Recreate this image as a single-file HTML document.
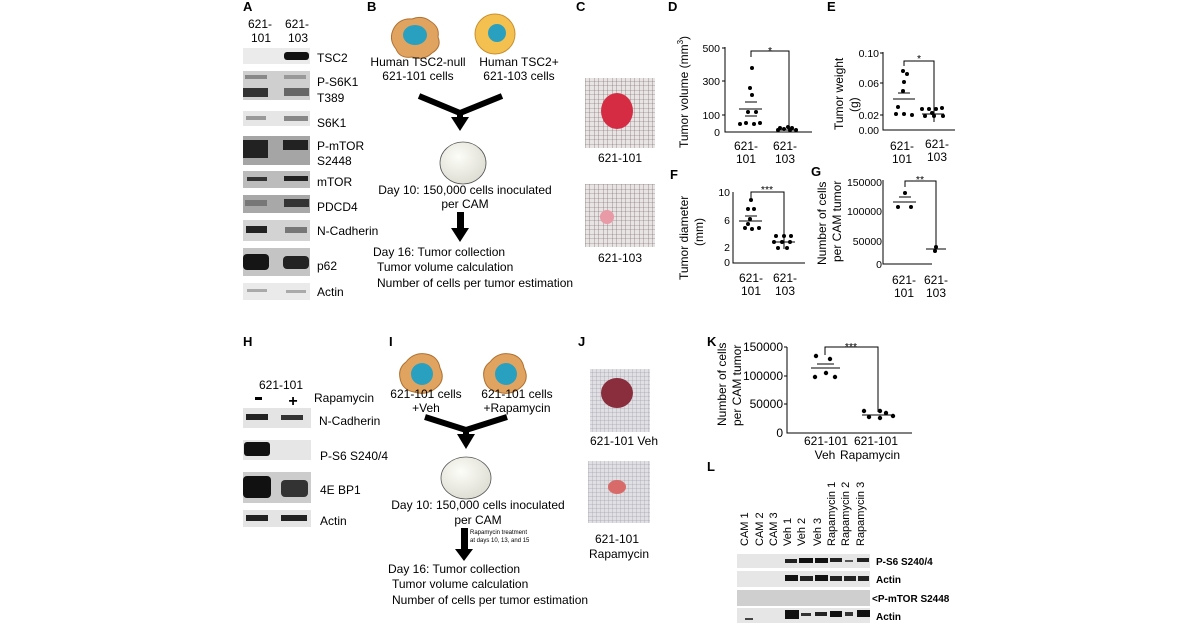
<!DOCTYPE html>
<html><head><meta charset="utf-8"><style>
html,body{margin:0;padding:0;background:#fff;}
svg{display:block;font-family:"Liberation Sans",sans-serif;}
.b{font-weight:bold;font-size:13px;}
.t{font-size:12px;}
.s{font-size:10.5px;}
</style></head><body>
<svg width="1200" height="628" viewBox="0 0 1200 628" xmlns="http://www.w3.org/2000/svg">
<defs>
<pattern id="g" width="4.5" height="4.5" patternUnits="userSpaceOnUse"><rect width="4.5" height="4.5" fill="#e8e4e4"/><path d="M0 0H4.5M0 0V4.5" stroke="#6a5a5a" stroke-width="0.6"/></pattern>
<pattern id="g2" width="4" height="4" patternUnits="userSpaceOnUse"><rect width="4" height="4" fill="#e0e0e4"/><path d="M0 0H4M0 0V4" stroke="#8a8a92" stroke-width="0.5"/></pattern>
<radialGradient id="egg" cx="0.4" cy="0.35" r="0.7"><stop offset="0" stop-color="#fdfdf8"/><stop offset="1" stop-color="#dcdcd2"/></radialGradient>
</defs>
<g fill="#000">
<!-- A -->
<text x="243" y="11" class="b">A</text>
<text x="248" y="28" class="t">621-</text><text x="251" y="42" class="t">101</text>
<text x="285" y="28" class="t">621-</text><text x="288" y="42" class="t">103</text>
<rect x="243" y="48" width="67" height="16" fill="#ebebeb"/><rect x="284" y="52" width="25" height="8" rx="3" fill="#111"/>
<rect x="243" y="71" width="67" height="29" fill="#cfcfcf"/><rect x="243" y="88" width="25" height="9" fill="#333"/><rect x="284" y="88" width="25" height="8" fill="#666"/><rect x="245" y="75" width="22" height="4" fill="#888"/><rect x="284" y="75" width="22" height="4" fill="#999"/>
<rect x="243" y="111" width="67" height="15" fill="#e6e6e6"/><rect x="246" y="116" width="20" height="4" fill="#999"/><rect x="284" y="116" width="24" height="5" fill="#888"/>
<rect x="243" y="136" width="67" height="29" fill="#a5a5a5"/><rect x="243" y="140" width="25" height="18" fill="#222"/><rect x="283" y="140" width="25" height="10" fill="#222"/>
<rect x="243" y="171" width="67" height="17" fill="#bcbcbc"/><rect x="247" y="177" width="20" height="4" fill="#333"/><rect x="284" y="176" width="24" height="5" fill="#222"/>
<rect x="243" y="195" width="67" height="18" fill="#a8a8a8"/><rect x="245" y="200" width="22" height="6" fill="#777"/><rect x="284" y="199" width="25" height="8" fill="#333"/>
<rect x="243" y="220" width="67" height="21" fill="#d3d3d3"/><rect x="246" y="226" width="21" height="7" fill="#222"/><rect x="285" y="227" width="22" height="6" fill="#777"/>
<rect x="243" y="248" width="67" height="28" fill="#c4c4c4"/><rect x="243" y="254" width="26" height="16" rx="4" fill="#151515"/><rect x="283" y="256" width="26" height="13" rx="4" fill="#222"/>
<rect x="243" y="283" width="67" height="17" fill="#eaeaea"/><rect x="247" y="289" width="20" height="3" fill="#aaa"/><rect x="286" y="290" width="20" height="3" fill="#aaa"/>
<text x="317" y="62" class="t">TSC2</text>
<text x="317" y="86" class="t">P-S6K1</text><text x="317" y="102" class="t">T389</text>
<text x="317" y="127" class="t">S6K1</text>
<text x="317" y="150" class="t">P-mTOR</text><text x="317" y="165" class="t">S2448</text>
<text x="317" y="186" class="t">mTOR</text>
<text x="317" y="211" class="t">PDCD4</text>
<text x="317" y="235" class="t">N-Cadherin</text>
<text x="317" y="270" class="t">p62</text>
<text x="317" y="296" class="t">Actin</text>
<!-- B -->
<text x="367" y="11" class="b">B</text>
<path d="M394 28 q6-10 18-9 q10-4 18 2 q10 6 8 16 q4 10-6 16 q-8 8-20 4 q-12 2-16-8 q-8-10-2-21z" fill="#e0a460" stroke="#b07030" stroke-width="1"/>
<ellipse cx="415" cy="35" rx="12" ry="10" fill="#2aa0c0"/>
<circle cx="495" cy="34" r="20" fill="#f4c050" stroke="#c89030" stroke-width="1"/><circle cx="497" cy="33" r="9" fill="#2aa0c0"/>
<text x="418" y="66" class="t" text-anchor="middle">Human TSC2-null</text>
<text x="418" y="80" class="t" text-anchor="middle">621-101 cells</text>
<text x="519" y="66" class="t" text-anchor="middle">Human TSC2+</text>
<text x="519" y="80" class="t" text-anchor="middle">621-103 cells</text>
<path d="M419 96 L460 113 L502 96" fill="none" stroke="#000" stroke-width="6"/>
<path d="M460 113 V118" stroke="#000" stroke-width="6"/><path d="M451 117 L469 117 L460 131z"/>
<ellipse cx="463" cy="163" rx="23" ry="21" fill="url(#egg)" stroke="#555" stroke-width="0.8"/>
<text x="465" y="194" class="t" text-anchor="middle">Day 10: 150,000 cells inoculated</text>
<text x="465" y="208" class="t" text-anchor="middle">per CAM</text>
<rect x="457" y="212" width="7" height="17"/><path d="M451 228 L469 228 L460 242z"/>
<text x="373" y="256" class="t">Day 16: Tumor collection</text>
<text x="377" y="271" class="t">Tumor volume calculation</text>
<text x="377" y="287" class="t">Number of cells per tumor estimation</text>
<!-- C -->
<text x="576" y="11" class="b">C</text>
<rect x="585" y="78" width="70" height="70" fill="url(#g)"/>
<ellipse cx="617" cy="111" rx="16" ry="18" fill="#d52c44"/>
<text x="620" y="162" class="t" text-anchor="middle">621-101</text>
<rect x="585" y="184" width="70" height="63" fill="url(#g)"/>
<circle cx="607" cy="217" r="7" fill="#e89aa6"/>
<text x="620" y="262" class="t" text-anchor="middle">621-103</text>
<!-- D -->
<text x="668" y="11" class="b">D</text>
<text transform="translate(688,148) rotate(-90)" class="t">Tumor volume (mm<tspan dy="-5" font-size="8">3</tspan><tspan dy="5">)</tspan></text>
<path d="M725 47 V132 H812" fill="none" stroke="#000"/>
<path d="M722 48H725M722 81H725M722 115H725" stroke="#000"/>
<text x="720" y="52" class="s" text-anchor="end">500</text><text x="720" y="85" class="s" text-anchor="end">300</text><text x="720" y="119" class="s" text-anchor="end">100</text><text x="720" y="136" class="s" text-anchor="end">0</text>
<path d="M751 57V51H789V126" fill="none" stroke="#000"/><text x="770" y="54" class="s" text-anchor="middle">*</text>
<g><circle cx="752" cy="68" r="2"/><circle cx="750" cy="88" r="2"/><circle cx="752" cy="95" r="2"/><circle cx="740" cy="124" r="2"/><circle cx="746" cy="123" r="2"/><circle cx="754" cy="124" r="2"/><circle cx="760" cy="123" r="2"/><circle cx="748" cy="112" r="2"/><circle cx="756" cy="112" r="2"/>
<circle cx="778" cy="130" r="2"/><circle cx="784" cy="129" r="2"/><circle cx="790" cy="130" r="2"/><circle cx="796" cy="130" r="2"/><circle cx="788" cy="127" r="2"/><circle cx="780" cy="128" r="2"/><circle cx="792" cy="128" r="2"/></g>
<path d="M739 109H762M745 102H757M745 116H757M777 130H798" stroke="#000"/>
<text x="746" y="150" class="t" text-anchor="middle">621-</text><text x="746" y="163" class="t" text-anchor="middle">101</text>
<text x="785" y="150" class="t" text-anchor="middle">621-</text><text x="785" y="163" class="t" text-anchor="middle">103</text>
<!-- E -->
<text x="827" y="11" class="b">E</text>
<text transform="translate(843,130) rotate(-90)" class="t">Tumor weight</text>
<text transform="translate(858,112) rotate(-90)" class="t">(g)</text>
<path d="M883 52 V130 H955" fill="none" stroke="#000"/>
<path d="M880 53H883M880 83H883M880 115H883" stroke="#000"/>
<text x="879" y="57" class="s" text-anchor="end">0.10</text><text x="879" y="87" class="s" text-anchor="end">0.06</text><text x="879" y="119" class="s" text-anchor="end">0.02</text><text x="879" y="134" class="s" text-anchor="end">0.00</text>
<path d="M904 66V61H934V122" fill="none" stroke="#000"/><text x="919" y="62" class="s" text-anchor="middle">*</text>
<g><circle cx="903" cy="71" r="2"/><circle cx="907" cy="74" r="2"/><circle cx="904" cy="82" r="2"/><circle cx="903" cy="91" r="2"/><circle cx="896" cy="114" r="2"/><circle cx="904" cy="114" r="2"/><circle cx="912" cy="115" r="2"/><circle cx="898" cy="107" r="2"/>
<circle cx="922" cy="109" r="2"/><circle cx="929" cy="109" r="2"/><circle cx="936" cy="109" r="2"/><circle cx="942" cy="108" r="2"/><circle cx="925" cy="116" r="2"/><circle cx="934" cy="116" r="2"/><circle cx="943" cy="116" r="2"/><circle cx="932" cy="113" r="2"/></g>
<path d="M893 99H915M898 93H910M922 114H944" stroke="#000"/>
<text x="902" y="150" class="t" text-anchor="middle">621-</text><text x="902" y="163" class="t" text-anchor="middle">101</text>
<text x="937" y="148" class="t" text-anchor="middle">621-</text><text x="937" y="161" class="t" text-anchor="middle">103</text>
<!-- F -->
<text x="670" y="179" class="b">F</text>
<text transform="translate(688,280) rotate(-90)" class="t">Tumor diameter</text>
<text transform="translate(703,246) rotate(-90)" class="t">(mm)</text>
<path d="M733 192 V263 H805" fill="none" stroke="#000"/>
<text x="730" y="196" class="s" text-anchor="end">10</text><text x="730" y="224" class="s" text-anchor="end">6</text><text x="730" y="251" class="s" text-anchor="end">2</text><text x="730" y="266" class="s" text-anchor="end">0</text>
<path d="M751 198V192H784V249" fill="none" stroke="#000"/><text x="767" y="193" class="s" text-anchor="middle">***</text>
<g><circle cx="751" cy="200" r="2"/><circle cx="748" cy="209" r="2"/><circle cx="754" cy="209" r="2"/><circle cx="750" cy="219" r="2"/><circle cx="745" cy="228" r="2"/><circle cx="752" cy="229" r="2"/><circle cx="759" cy="228" r="2"/><circle cx="748" cy="224" r="2"/>
<circle cx="776" cy="236" r="2"/><circle cx="784" cy="236" r="2"/><circle cx="791" cy="236" r="2"/><circle cx="774" cy="242" r="2"/><circle cx="782" cy="242" r="2"/><circle cx="790" cy="242" r="2"/><circle cx="778" cy="248" r="2"/><circle cx="787" cy="248" r="2"/></g>
<path d="M739 221H762M745 216H757M773 242H795" stroke="#000"/>
<text x="751" y="282" class="t" text-anchor="middle">621-</text><text x="751" y="295" class="t" text-anchor="middle">101</text>
<text x="785" y="282" class="t" text-anchor="middle">621-</text><text x="785" y="295" class="t" text-anchor="middle">103</text>
<!-- G -->
<text x="811" y="176" class="b">G</text>
<text transform="translate(826,265) rotate(-90)" class="t">Number of cells</text>
<text transform="translate(841,262) rotate(-90)" class="t">per CAM tumor</text>
<path d="M883 180 V264 H932" fill="none" stroke="#000"/>
<text x="882" y="186" class="s" text-anchor="end">150000</text><text x="882" y="215" class="s" text-anchor="end">100000</text><text x="882" y="245" class="s" text-anchor="end">50000</text><text x="882" y="268" class="s" text-anchor="end">0</text>
<path d="M905 187V181H936V247" fill="none" stroke="#000"/><text x="920" y="183" class="s" text-anchor="middle">**</text>
<circle cx="905" cy="193" r="2"/><circle cx="898" cy="207" r="2"/><circle cx="911" cy="207" r="2"/><circle cx="936" cy="247" r="2"/><circle cx="935" cy="251" r="2"/>
<path d="M893 202H916M899 197H911M926 249H946" stroke="#000"/>
<text x="904" y="284" class="t" text-anchor="middle">621-</text><text x="904" y="297" class="t" text-anchor="middle">101</text>
<text x="936" y="284" class="t" text-anchor="middle">621-</text><text x="936" y="297" class="t" text-anchor="middle">103</text>
<!-- H -->
<text x="243" y="346" class="b">H</text>
<text x="281" y="389" class="t" text-anchor="middle">621-101</text>
<rect x="255" y="397" width="7" height="3"/><text x="293" y="406" font-size="16" font-weight="bold" text-anchor="middle">+</text>
<text x="314" y="402" class="t">Rapamycin</text>
<rect x="243" y="408" width="68" height="20" fill="#e4e4e4"/><rect x="246" y="414" width="22" height="6" fill="#222"/><rect x="281" y="415" width="22" height="5" fill="#333"/>
<rect x="243" y="440" width="68" height="20" fill="#e6e6e6"/><rect x="244" y="442" width="26" height="14" rx="3" fill="#111"/>
<rect x="243" y="472" width="68" height="31" fill="#ccc"/><rect x="243" y="476" width="28" height="22" rx="4" fill="#111"/><rect x="281" y="480" width="27" height="17" rx="4" fill="#333"/>
<rect x="243" y="510" width="68" height="17" fill="#e4e4e4"/><rect x="246" y="515" width="22" height="6" fill="#222"/><rect x="281" y="515" width="26" height="6" fill="#222"/>
<text x="319" y="425" class="t">N-Cadherin</text>
<text x="320" y="460" class="t">P-S6 S240/4</text>
<text x="320" y="494" class="t">4E BP1</text>
<text x="320" y="525" class="t">Actin</text>
<!-- I -->
<text x="389" y="346" class="b">I</text>
<path d="M406 362 q8-10 20-8 q12 2 14 14 q6 12-4 20 q-10 8-22 4 q-12-2-14-14 q-2-10 6-16z" fill="#e0a460" stroke="#b07030" stroke-width="1"/><ellipse cx="422" cy="374" rx="11" ry="11" fill="#2aa0c0"/>
<path d="M490 362 q8-10 20-8 q12 2 14 14 q6 12-4 20 q-10 8-22 4 q-12-2-14-14 q-2-10 6-16z" fill="#e0a460" stroke="#b07030" stroke-width="1"/><ellipse cx="506" cy="374" rx="11" ry="11" fill="#2aa0c0"/>
<text x="426" y="398" class="t" text-anchor="middle">621-101 cells</text><text x="426" y="412" class="t" text-anchor="middle">+Veh</text>
<text x="517" y="398" class="t" text-anchor="middle">621-101 cells</text><text x="517" y="412" class="t" text-anchor="middle">+Rapamycin</text>
<path d="M425 417 L466 430 L507 417" fill="none" stroke="#000" stroke-width="6"/>
<path d="M466 430 V435" stroke="#000" stroke-width="6"/><path d="M457 434 L475 434 L466 449z"/>
<ellipse cx="466" cy="478" rx="25" ry="21" fill="url(#egg)" stroke="#555" stroke-width="0.8"/>
<text x="478" y="509" class="t" text-anchor="middle">Day 10: 150,000 cells inoculated</text>
<text x="478" y="524" class="t" text-anchor="middle">per CAM</text>
<rect x="461" y="528" width="7" height="22"/><path d="M455 549 L473 549 L464 561z"/>
<text x="470" y="534" font-size="6">Rapamycin treatment</text>
<text x="470" y="542" font-size="6">at days 10, 13, and 15</text>
<text x="388" y="573" class="t">Day 16: Tumor collection</text>
<text x="392" y="588" class="t">Tumor volume calculation</text>
<text x="392" y="604" class="t">Number of cells per tumor estimation</text>
<!-- J -->
<text x="578" y="346" class="b">J</text>
<rect x="590" y="369" width="60" height="63" fill="url(#g2)"/>
<ellipse cx="617" cy="393" rx="16" ry="15" fill="#8a2e3e"/>
<text x="624" y="445" class="t" text-anchor="middle">621-101 Veh</text>
<rect x="588" y="461" width="62" height="62" fill="url(#g2)"/>
<ellipse cx="617" cy="487" rx="9" ry="7" fill="#d86a6a"/>
<text x="617" y="543" class="t" text-anchor="middle">621-101</text><text x="619" y="558" class="t" text-anchor="middle">Rapamycin</text>
<!-- K -->
<text x="707" y="346" class="b">K</text>
<text transform="translate(726,426) rotate(-90)" class="t">Number of cells</text>
<text transform="translate(741,426) rotate(-90)" class="t">per CAM tumor</text>
<path d="M787 347 V433 H912" fill="none" stroke="#000"/>
<path d="M784 347H787M784 376H787M784 404H787" stroke="#000"/>
<text x="783" y="351" class="t" text-anchor="end">150000</text><text x="783" y="380" class="t" text-anchor="end">100000</text><text x="783" y="408" class="t" text-anchor="end">50000</text><text x="783" y="437" class="t" text-anchor="end">0</text>
<path d="M825 355V347H878V412" fill="none" stroke="#000"/><text x="851" y="350" class="s" text-anchor="middle">***</text>
<circle cx="816" cy="356" r="2.2"/><circle cx="830" cy="359" r="2.2"/><circle cx="826" cy="373" r="2.2"/><circle cx="815" cy="377" r="2.2"/><circle cx="835" cy="377" r="2.2"/>
<circle cx="864" cy="411" r="2.2"/><circle cx="880" cy="411" r="2.2"/><circle cx="886" cy="413" r="2.2"/><circle cx="869" cy="417" r="2.2"/><circle cx="880" cy="418" r="2.2"/><circle cx="893" cy="416" r="2.2"/>
<path d="M811 368H840M817 364H834M862 415H893" stroke="#000"/>
<text x="826" y="445" class="t" text-anchor="middle">621-101</text><text x="825" y="459" class="t" text-anchor="middle">Veh</text>
<text x="876" y="445" class="t" text-anchor="middle">621-101</text><text x="870" y="459" class="t" text-anchor="middle">Rapamycin</text>
<!-- L -->
<text x="707" y="471" class="b">L</text>
<g font-size="11">
<text transform="translate(748,546) rotate(-90)">CAM 1</text>
<text transform="translate(763,546) rotate(-90)">CAM 2</text>
<text transform="translate(777,546) rotate(-90)">CAM 3</text>
<text transform="translate(791,546) rotate(-90)">Veh 1</text>
<text transform="translate(805,546) rotate(-90)">Veh 2</text>
<text transform="translate(821,546) rotate(-90)">Veh 3</text>
<text transform="translate(835,546) rotate(-90)">Rapamycin 1</text>
<text transform="translate(849,546) rotate(-90)">Rapamycin 2</text>
<text transform="translate(864,546) rotate(-90)">Rapamycin 3</text>
</g>
<rect x="737" y="554" width="133" height="14" fill="#e6e6e6"/>
<rect x="785" y="559" width="12" height="4" fill="#222"/><rect x="799" y="558" width="14" height="5" fill="#111"/><rect x="815" y="558" width="13" height="5" fill="#111"/><rect x="830" y="558" width="12" height="4" fill="#222"/><rect x="845" y="560" width="8" height="2" fill="#555"/><rect x="857" y="558" width="12" height="4" fill="#222"/>
<rect x="737" y="571" width="133" height="16" fill="#e6e6e6"/>
<rect x="785" y="575" width="13" height="6" fill="#111"/><rect x="800" y="576" width="13" height="5" fill="#222"/><rect x="815" y="575" width="13" height="6" fill="#111"/><rect x="830" y="576" width="12" height="5" fill="#222"/><rect x="844" y="576" width="12" height="5" fill="#222"/><rect x="858" y="576" width="11" height="5" fill="#222"/>
<rect x="737" y="590" width="133" height="16" fill="#cfcfcf"/>
<rect x="737" y="608" width="133" height="15" fill="#e6e6e6"/>
<rect x="745" y="618" width="8" height="2" fill="#444"/><rect x="785" y="610" width="14" height="9" fill="#111"/><rect x="801" y="613" width="10" height="3" fill="#333"/><rect x="815" y="612" width="12" height="4" fill="#222"/><rect x="830" y="611" width="12" height="6" fill="#111"/><rect x="845" y="612" width="8" height="4" fill="#333"/><rect x="857" y="610" width="13" height="7" fill="#111"/>
<g font-size="10" font-weight="bold">
<text x="876" y="565">P-S6 S240/4</text>
<text x="876" y="583">Actin</text>
<text x="872" y="602">&lt;P-mTOR S2448</text>
<text x="876" y="620">Actin</text>
</g>
</g>
</svg>
</body></html>
